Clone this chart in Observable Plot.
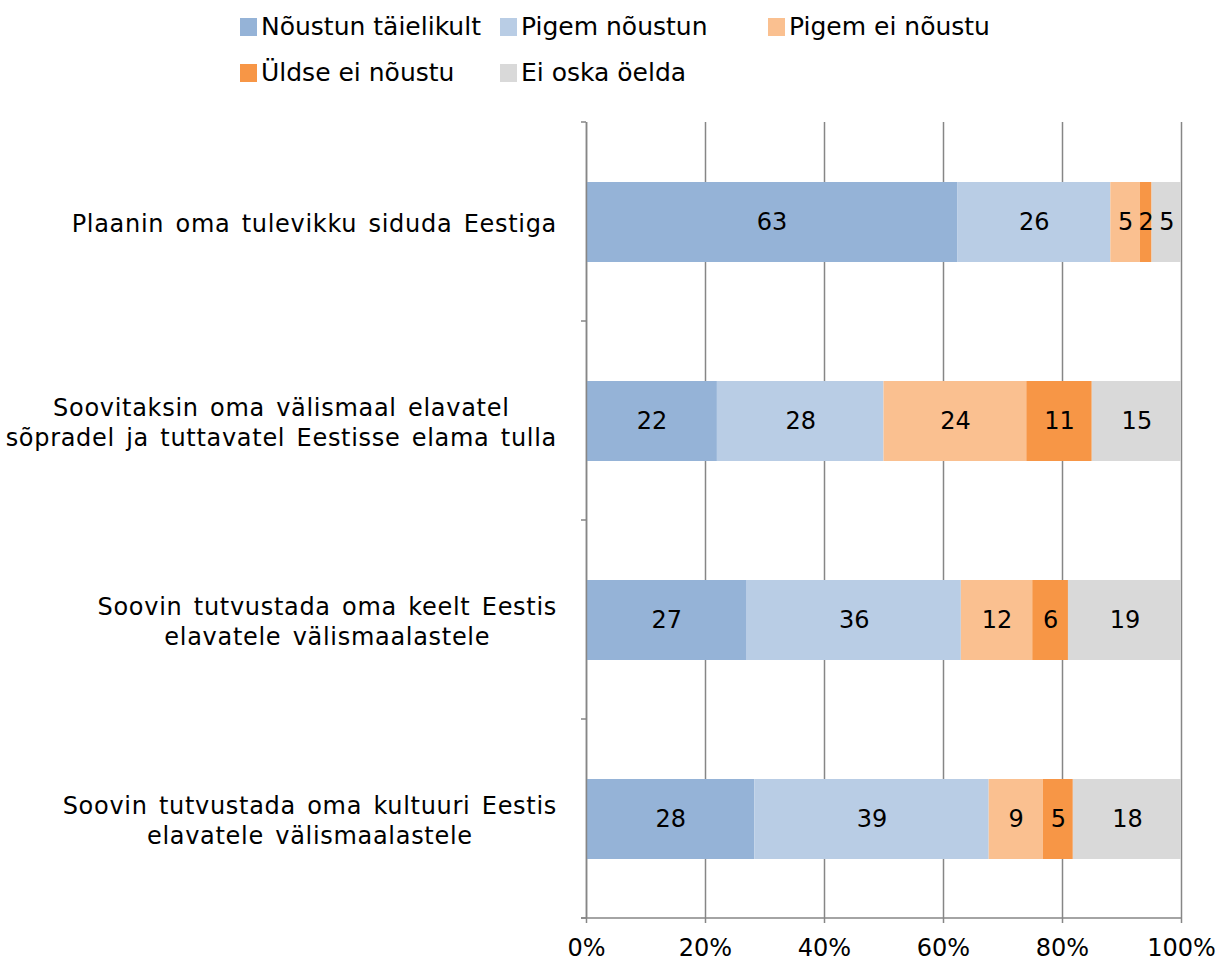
<!DOCTYPE html>
<html>
<head>
<meta charset="utf-8">
<script src="https://cdn.jsdelivr.net/npm/d3@7"></script>
<script src="https://cdn.jsdelivr.net/npm/@observablehq/plot@0.6"></script>
<style>
  html, body { margin: 0; padding: 0; background: #fff; }
  body { width: 1221px; height: 964px; position: relative; overflow: hidden; font-family: "DejaVu Sans", Verdana, sans-serif; }
  #legend { position: relative; height: 110px; }
  .item { position: absolute; display: flex; align-items: center; font-size: 25px; line-height: 30px; color: #000; white-space: nowrap; }
  .sw { width: 17px; height: 18px; margin-right: 4px; }
  #chart { position: absolute; left: 0; top: 110px; }
  #chart g[aria-label="y-axis tick label"] text { letter-spacing: 0.7px; word-spacing: 3px; }
</style>
</head>
<body>
<div id="legend"></div>
<div id="chart"></div>
<script>
const categories = [
  "Plaanin oma tulevikku siduda Eestiga",
  "Soovitaksin oma välismaal elavatel\nsõpradel ja tuttavatel Eestisse elama tulla",
  "Soovin tutvustada oma keelt Eestis\nelavatele välismaalastele",
  "Soovin tutvustada oma kultuuri Eestis\nelavatele välismaalastele"
];
const seriesNames = ["Nõustun täielikult", "Pigem nõustun", "Pigem ei nõustu", "Üldse ei nõustu", "Ei oska öelda"];
const seriesColors = ["#95B3D7", "#B9CDE5", "#FAC090", "#F79646", "#D9D9D9"];
const noustunTaielikult = [63, 22, 27, 28];
const pigemNoustun = [26, 28, 36, 39];
const pigemEiNoustu = [5, 24, 12, 9];
const uldseEiNoustu = [2, 11, 6, 5];
const eiOskaOelda = [5, 15, 19, 18];
const xTicks = [0, 0.2, 0.4, 0.6, 0.8, 1];

const seriesValues = [noustunTaielikult, pigemNoustun, pigemEiNoustu, uldseEiNoustu, eiOskaOelda];
const rows = categories.flatMap((c, i) => seriesNames.map((s, j) => ({category: c, series: s, value: seriesValues[j][i]})));

// Legend
const legendPos = [[240, 12], [500, 12], [768, 12], [240, 58], [500, 58]];
const legend = document.getElementById("legend");
seriesNames.forEach((s, j) => {
  const it = document.createElement("div");
  it.className = "item";
  it.style.left = legendPos[j][0] + "px";
  it.style.top = legendPos[j][1] + "px";
  const sw = document.createElement("span");
  sw.className = "sw";
  sw.style.background = seriesColors[j];
  const tx = document.createElement("span");
  tx.textContent = s;
  it.append(sw, tx);
  legend.append(it);
});

const gridColor = "#868686";
const chart = Plot.plot({
  width: 1221,
  height: 854,
  marginLeft: 586,
  marginRight: 40,
  marginTop: 12,
  marginBottom: 46,
  style: {fontFamily: "DejaVu Sans, Verdana, sans-serif", fontSize: "24px", color: "#000", background: "#fff"},
  x: {domain: [0, 1]},
  y: {domain: categories, paddingInner: 0.6, paddingOuter: 0.3},
  color: {domain: seriesNames, range: seriesColors},
  marks: [
    Plot.gridX(xTicks, {stroke: gridColor, strokeOpacity: 1, strokeWidth: 1.5}),
    Plot.barX(rows, Plot.stackX({x: "value", y: "category", fill: "series", z: "series", offset: "normalize", order: seriesNames})),
    Plot.text(rows, Plot.stackX({x: "value", y: "category", z: "series", text: d => String(d.value), offset: "normalize", order: seriesNames, fill: "#000", fontSize: 24})),
    Plot.ruleX([0], {stroke: gridColor, strokeWidth: 1.5}),
    Plot.axisX(xTicks, {tickFormat: d3.format(".0%"), tickSize: 5, tickPadding: 15, stroke: gridColor, strokeWidth: 1.5, fontSize: 24, label: null}),
    Plot.axisY({tickSize: 0, tickPadding: 0, textAnchor: "middle", lineAnchor: "middle", fontSize: 24, label: null, lineHeight: 1.25})
  ]
});
document.getElementById("chart").append(chart);

// Post-process: bottom axis line, y tick marks between categories, center-aligned multi-line labels
const sx = chart.scale("x"), sy = chart.scale("y");
const [x0, x1] = sx.range;
const [y0, y1] = sy.range;
const ns = "http://www.w3.org/2000/svg";
const extra = document.createElementNS(ns, "g");
extra.setAttribute("stroke", gridColor);
extra.setAttribute("stroke-width", "1.5");
function line(a, b, c, d) {
  const l = document.createElementNS(ns, "line");
  l.setAttribute("x1", a); l.setAttribute("y1", b); l.setAttribute("x2", c); l.setAttribute("y2", d);
  extra.append(l);
}
line(x0 - 5, y1, x1, y1);
const n = categories.length;
for (let k = 0; k <= n; k++) {
  const yy = y0 + k * (y1 - y0) / n;
  line(x0 - 5, yy, x0, yy);
}
chart.append(extra);

const labelRightGap = 29;
const svgRect = chart.getBoundingClientRect();
const yAxisG = chart.querySelector('[aria-label="y-axis tick label"]');
if (yAxisG) {
  yAxisG.querySelectorAll("text").forEach(t => {
    const r = t.getBoundingClientRect();
    const target = svgRect.left + x0 - labelRightGap;
    const dx = target - r.right;
    const tr = t.getAttribute("transform") || "";
    t.setAttribute("transform", tr + ` translate(${dx},0)`);
  });
}
</script>
</body>
</html>
